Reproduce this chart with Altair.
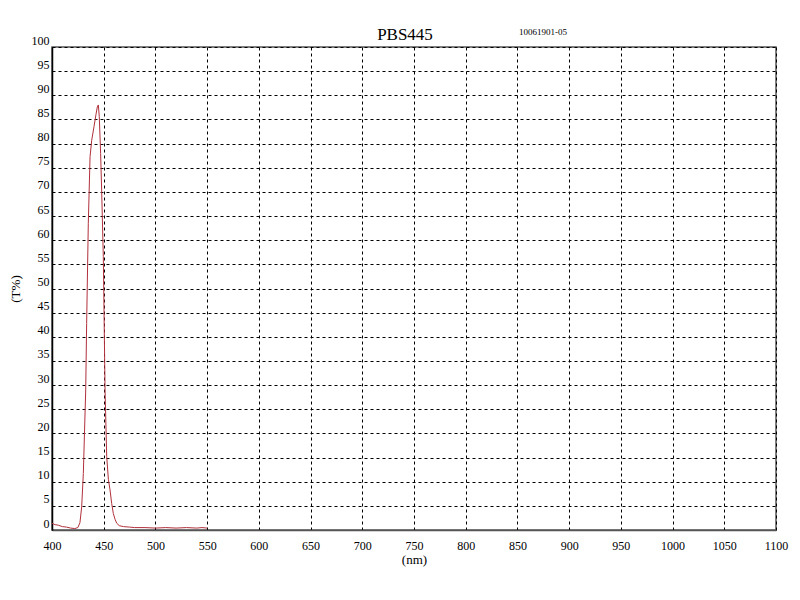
import altair as alt
import pandas as pd

wavelength = [400, 403, 406, 410, 414, 418, 422, 425, 427, 428.7, 430.3, 432.6, 433.5, 435.1,
              436.8, 438.4, 440.6, 442.5, 443.8, 444.8, 445.7, 447, 448, 449.6, 451.3, 452.9,
              454.5, 456.1, 457.7, 459.3, 461, 462.6, 465, 469, 475, 480, 490, 500, 510, 520,
              530, 540, 545, 550]
transmission = [1.4, 1.1, 1.0, 0.7, 0.6, 0.4, 0.3, 0.5, 1.5, 4.8, 11.7, 29.0, 42.8, 63.5,
                77.3, 80.7, 83.5, 86.0, 87.6, 88.0, 85.6, 78.0, 70.4, 56.6, 29.0, 15.2,
                10.5, 8.3, 5.5, 3.4, 2.2, 1.4, 0.9, 0.7, 0.6, 0.5, 0.5, 0.4, 0.5, 0.4,
                0.5, 0.4, 0.5, 0.4]

x_ticks = list(range(400, 1101, 50))
y_ticks = list(range(0, 101, 5))

title_text = "PBS445"
sub_text = "10061901-05"

df = pd.DataFrame({"nm": wavelength, "T": transmission})

font = "Liberation Serif"

line = alt.Chart(df).mark_line(color="#b0303c", strokeWidth=1, clip=True).encode(
    x=alt.X("nm:Q", scale=alt.Scale(domain=[400, 1100], nice=False),
            axis=alt.Axis(values=x_ticks, title="(nm)", grid=True, gridDash=[3, 3],
                          gridColor="#000000", gridOpacity=1, gridWidth=1, format="d",
                          labelFlush=False, labelOverlap=False,
                          ticks=False, labelPadding=10, labelFontSize=12,
                          labelFont=font, titleFont=font, titleFontSize=13,
                          titleFontWeight="normal", titlePadding=2,
                          domainColor="#555555", domainWidth=1.5)),
    y=alt.Y("T:Q", scale=alt.Scale(domain=[0, 100], nice=False),
            axis=alt.Axis(values=y_ticks, title="(T%)", grid=True, gridDash=[3, 3],
                          gridColor="#000000", gridOpacity=1, gridWidth=1,
                          labelFlush=False, labelOverlap=False,
                          ticks=False, labelPadding=3, labelFontSize=12,
                          labelBaseline="bottom",
                          labelFont=font, titleFont=font, titleFontSize=13,
                          titleFontWeight="normal", titlePadding=9,
                          domainColor="#000000", domainWidth=1.5)),
)

title = alt.Chart(pd.DataFrame({"t": [title_text]})).mark_text(
    font=font, fontSize=17, align="center", baseline="alphabetic"
).encode(x=alt.value(353), y=alt.value(-7), text="t:N")

sub = alt.Chart(pd.DataFrame({"t": [sub_text]})).mark_text(
    font=font, fontSize=9, align="left", baseline="middle"
).encode(x=alt.value(467), y=alt.value(-15), text="t:N")

chart = (line + title + sub).properties(
    width=724, height=483,
).configure_view(stroke="#555555", strokeWidth=1.5).properties(
    autosize=alt.AutoSizeParams(type="none"),
    padding={"left": 44, "top": 39, "right": 15, "bottom": 55},
)

chart.save("out.html", embed_options={"renderer": "svg", "actions": False})
